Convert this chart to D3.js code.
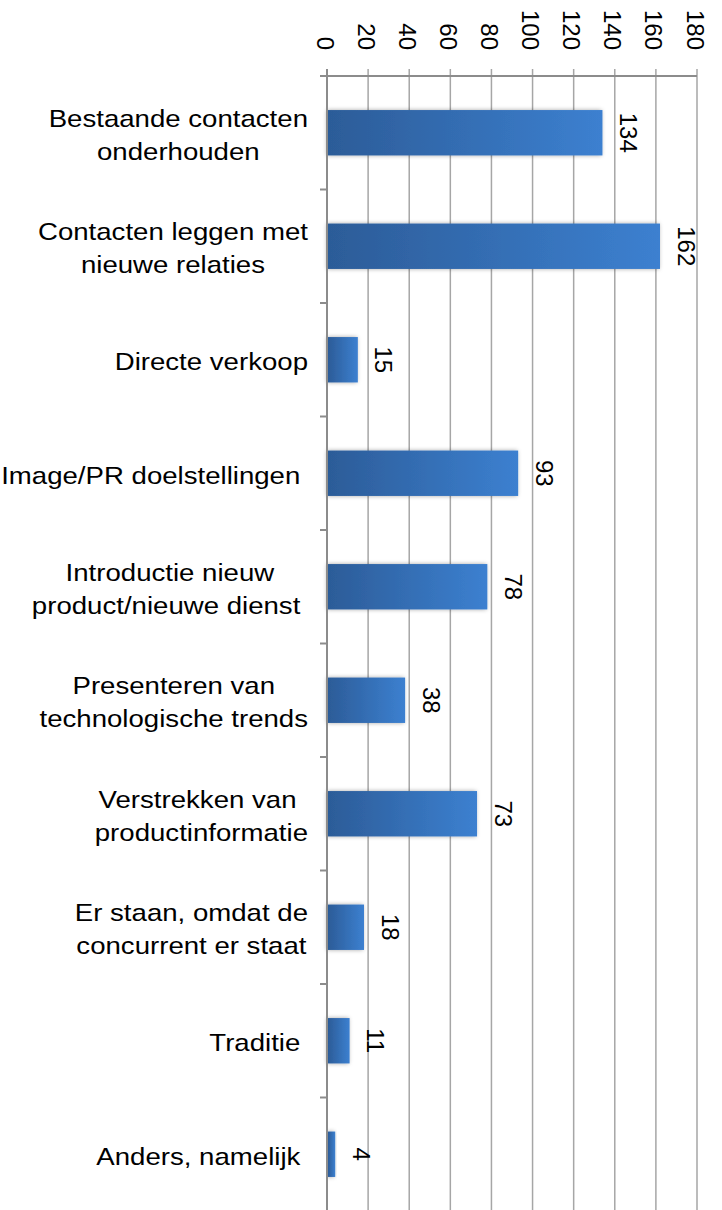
<!DOCTYPE html>
<html>
  <head>
    <script src="https://d3js.org/d3.v7.min.js"></script>
    <style>
      body { margin: 0; background: #fff; }
      text { font-family: "Liberation Sans", Arial, sans-serif; fill: #000; }
      .grid line { stroke: #a6a6a6; stroke-width: 1.5px; }
      .axis-line { stroke: #8c8c8c; stroke-width: 2px; }
      .tick-label { font-size: 24px; }
      .cat-label { font-size: 24px; white-space: pre; }
      .value-label { font-size: 24px; }
    </style>
  </head>
  <body>
    <svg width="722" height="1210"></svg>
    <script>
      const categories = [
        "Bestaande contacten\nonderhouden",
        "Contacten leggen met\nnieuwe relaties",
        "Directe verkoop",
        "Image/PR doelstellingen ",
        "Introductie nieuw\nproduct/nieuwe dienst ",
        "Presenteren van\ntechnologische trends",
        "Verstrekken van \nproductinformatie",
        "Er staan, omdat de\nconcurrent er staat",
        "Traditie ",
        "Anders, namelijk "
      ];
      const values = [134, 162, 15, 93, 78, 38, 73, 18, 11, 4];
      const tickValues = [0, 20, 40, 60, 80, 100, 120, 140, 160, 180];

      const svg = d3.select("svg");
      const plotLeft = 327, plotRight = 697, plotTop = 76, plotBottom = 1211;

      const xScale = d3.scaleLinear().domain([0, 180]).range([plotLeft, plotRight]);
      const yScale = d3.scaleBand()
        .domain(categories)
        .range([plotTop, plotBottom])
        .paddingInner(0.6)
        .paddingOuter(0.3);

      const defs = svg.append("defs");
      const grad = defs.append("linearGradient")
        .attr("id", "barGrad")
        .attr("x1", "0%").attr("x2", "100%").attr("y1", "0%").attr("y2", "0%");
      grad.append("stop").attr("offset", "0%").attr("stop-color", "#2c5c98");
      grad.append("stop").attr("offset", "100%").attr("stop-color", "#3c80d0");

      const shadow = defs.append("filter").attr("id", "shadow")
        .attr("x", "-20%").attr("y", "-30%").attr("width", "140%").attr("height", "160%");
      shadow.append("feDropShadow")
        .attr("dx", -1).attr("dy", 0).attr("stdDeviation", 2)
        .attr("flood-color", "#000").attr("flood-opacity", 0.35);

      // vertical gridlines with short ticks above the axis
      svg.append("g").attr("class", "grid")
        .selectAll("line")
        .data(tickValues.slice(1))
        .join("line")
          .attr("x1", d => xScale(d)).attr("x2", d => xScale(d))
          .attr("y1", plotTop - 7).attr("y2", plotBottom);

      // top axis line
      svg.append("line").attr("class", "axis-line")
        .attr("x1", plotLeft - 7).attr("x2", plotRight)
        .attr("y1", plotTop).attr("y2", plotTop);

      // category tick marks at band boundaries
      const step = yScale.step();
      svg.append("g")
        .selectAll("line")
        .data(d3.range(1, categories.length))
        .join("line")
          .attr("class", "axis-line")
          .attr("x1", plotLeft - 7).attr("x2", plotLeft)
          .attr("y1", i => plotTop + i * step).attr("y2", i => plotTop + i * step);

      // tick labels rotated
      svg.append("g")
        .selectAll("text")
        .data(tickValues)
        .join("text")
          .attr("class", "tick-label")
          .attr("transform", d => `translate(${xScale(d) - 2},50) rotate(90)`)
          .attr("text-anchor", "end")
          .attr("dominant-baseline", "central")
          .text(d => d);

      // bars
      svg.append("g")
        .selectAll("rect")
        .data(values)
        .join("rect")
          .attr("x", xScale(0) + 1)
          .attr("y", (d, i) => yScale(categories[i]))
          .attr("width", d => xScale(d) - xScale(0) - 1)
          .attr("height", yScale.bandwidth())
          .attr("fill", "url(#barGrad)")
          .attr("filter", "url(#shadow)");

      // left axis line
      svg.append("line").attr("class", "axis-line")
        .attr("x1", plotLeft).attr("x2", plotLeft)
        .attr("y1", plotTop - 7).attr("y2", plotBottom);

      // value labels
      svg.append("g")
        .selectAll("text")
        .data(values)
        .join("text")
          .attr("class", "value-label")
          .attr("transform", (d, i) =>
            `translate(${xScale(d) + 26},${yScale(categories[i]) + yScale.bandwidth() / 2}) rotate(90)`)
          .attr("text-anchor", "middle")
          .attr("dominant-baseline", "central")
          .text(d => d);

      // category labels, centred block right-aligned to the axis
      // (the source text is a bit wider than plain Arial, so stretch it)
      const lineH = 33, stretch = 1.15;
      const catG = svg.append("g");
      categories.forEach((c, i) => {
        const lines = c.split("\n");
        const cy = yScale(c) + yScale.bandwidth() / 2 + 2;
        const g = catG.append("g");
        const texts = lines.map((l, j) => g.append("text")
          .attr("class", "cat-label")
          .attr("y", cy + (j - (lines.length - 1) / 2) * lineH)
          .attr("dominant-baseline", "central")
          .attr("text-anchor", "middle")
          .text(l));
        const maxW = d3.max(texts, t => t.node().getComputedTextLength()) * stretch;
        g.attr("transform", `translate(${308 - maxW / 2},0) scale(${stretch},1)`);
      });
    </script>
  </body>
</html>
